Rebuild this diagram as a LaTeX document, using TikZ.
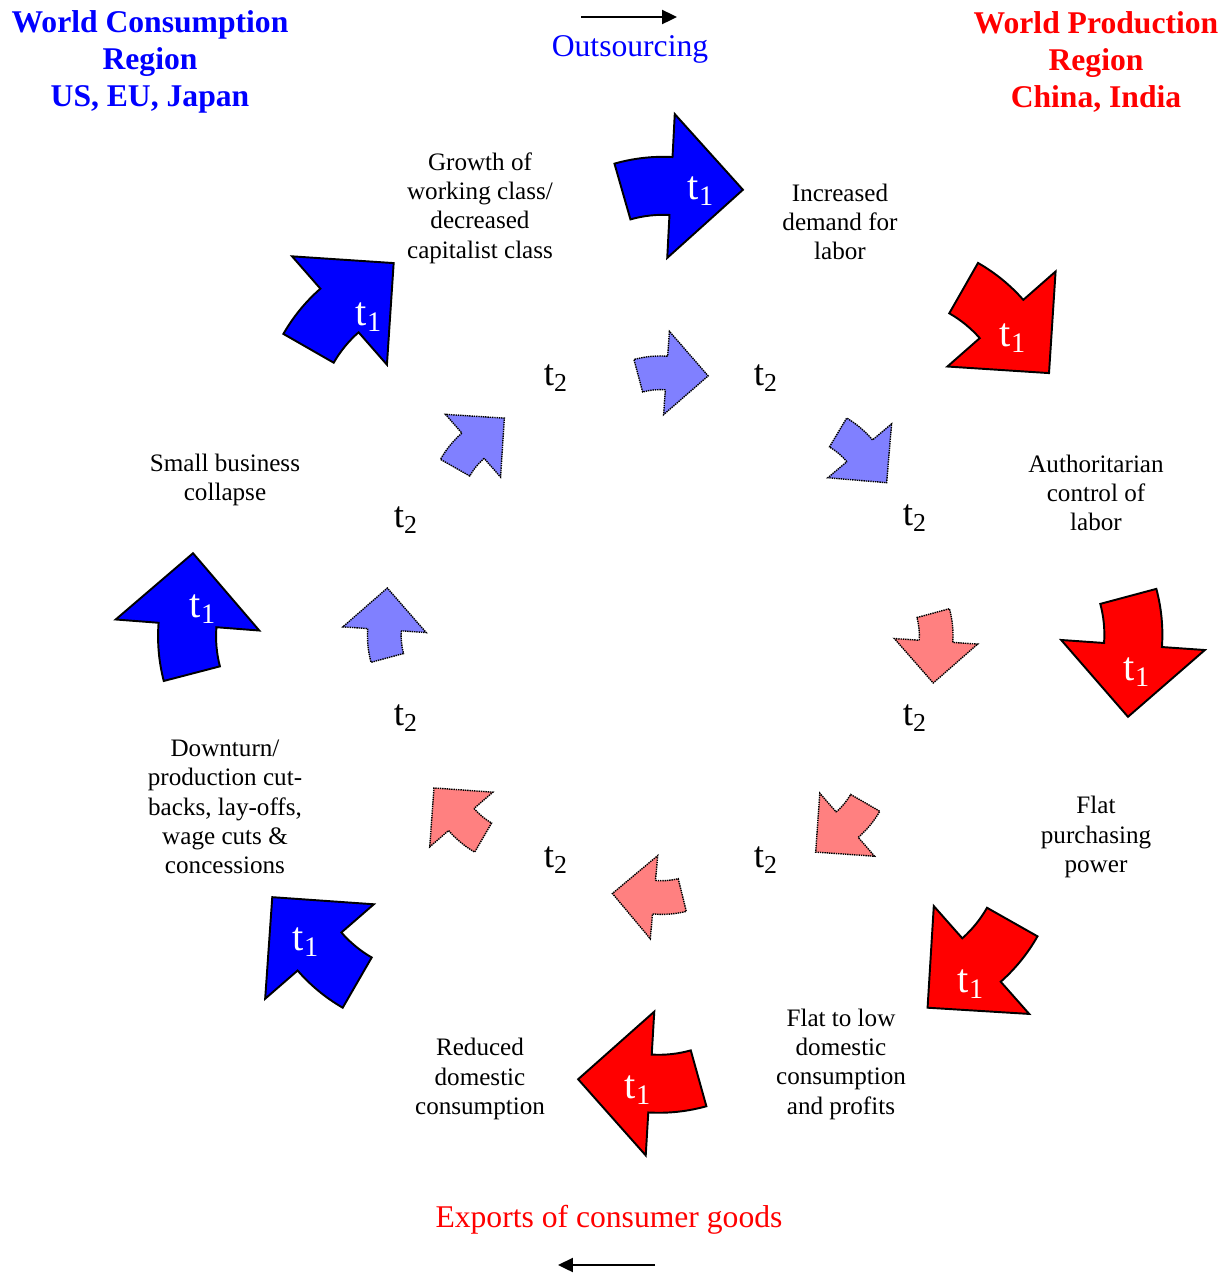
\documentclass[tikz,border=0pt]{standalone}
\usepackage{fontspec}
\setmainfont{Liberation Serif}
\usepackage{xcolor}
\usetikzlibrary{arrows.meta}
\definecolor{paleblue}{RGB}{128,128,255}
\definecolor{palered}{RGB}{255,128,128}

\tikzset{
  bentarrow/.pic={
    \path[pic actions] (0,-29) arc[start angle=90, end angle=109, radius=119]
      -- ++(109:58) arc[start angle=109, end angle=90, radius=177]
      -- (0,72) -- (72,0) -- (0,-72) -- cycle;
  }
}

\begin{document}
\begin{tikzpicture}[x=0.02cm, y=0.02cm,
    txt/.style={align=center, font=\fontsize{14.3}{16.7}\selectfont},
    head/.style={align=center, font=\bfseries\fontsize{18}{21}\selectfont},
    big/.style={font=\fontsize{18}{21}\selectfont},
    tone/.style={text=white, font=\fontsize{23}{27}\selectfont},
    ttwo/.style={font=\fontsize{21}{25}\selectfont},
    bigblue/.style={fill=blue, draw=black, line width=1.1pt},
    bigred/.style={fill=red, draw=black, line width=1.1pt},
    smallblue/.style={fill=paleblue, draw=black, line width=0.8pt, dash pattern=on 0.8pt off 0.5pt, scale=0.58},
    smallred/.style={fill=palered, draw=black, line width=0.8pt, dash pattern=on 0.8pt off 0.5pt, scale=0.58}]
            \useasboundingbox (0,0) rectangle (1228,-1275);

            \node[head, text=blue] (consumption) at (150,-62) {World Consumption\\Region\\US, EU, Japan};
            \node[head, text=red] (production) at (1096,-62) {World Production\\Region\\China, India};
            \node[big, text=blue] (outsourcing) at (630,-49) {Outsourcing};
            \node[big, text=red] (exports) at (609,-1220) {Exports of consumer goods};
            \coordinate (outfrom) at (581,-17);
            \coordinate (outto) at (677,-17);
            \coordinate (expfrom) at (655,-1265);
            \coordinate (expto) at (558,-1265);
            \draw[-{Triangle[length=8.5pt,width=8pt]}, line width=1.1pt] (outfrom) -- (outto);
            \draw[-{Triangle[length=8.5pt,width=8pt]}, line width=1.1pt] (expfrom) -- (expto);

            \pic[bigblue, rotate=-3] at (671,-186) {bentarrow};
            \pic[bigred, rotate=-48.7] at (1001.5,-319) {bentarrow};
            \pic[bigred, rotate=-94] at (1133,-645) {bentarrow};
            \pic[bigred, rotate=-138.5] at (981.5,-960) {bentarrow};
            \pic[bigred, rotate=176.6] at (650,-1083.5) {bentarrow};
            \pic[bigblue, rotate=131] at (319.5,-951.5) {bentarrow};
            \pic[bigblue, rotate=85.6] at (187.5,-625) {bentarrow};
            \pic[bigblue, rotate=41.2] at (339.5,-310.5) {bentarrow};

            \pic[smallblue, rotate=-4] at (666.5,-373) {bentarrow};
            \pic[smallblue, rotate=-49.8] at (859.7,-450.8) {bentarrow};
            \pic[smallred, rotate=-93.8] at (936,-641.3) {bentarrow};
            \pic[smallred, rotate=-139] at (847.2,-824.7) {bentarrow};
            \pic[smallred, rotate=174.9] at (654,-897.2) {bentarrow};
            \pic[smallred, rotate=130.9] at (461.3,-819.5) {bentarrow};
            \pic[smallblue, rotate=86.1] at (384.5,-629.7) {bentarrow};
            \pic[smallblue, rotate=41.3] at (473,-445.7) {bentarrow};

            \node[tone] (t1n) at (701,-191) {t\textsubscript{1}};
            \node[tone] (t1ne) at (1013,-338) {t\textsubscript{1}};
            \node[tone] (t1e) at (1137,-672) {t\textsubscript{1}};
            \node[tone] (t1se) at (971,-984) {t\textsubscript{1}};
            \node[tone] (t1s) at (638,-1090) {t\textsubscript{1}};
            \node[tone] (t1sw) at (306,-942) {t\textsubscript{1}};
            \node[tone] (t1w) at (203,-609) {t\textsubscript{1}};
            \node[tone] (t1nw) at (369,-317) {t\textsubscript{1}};

            \node[ttwo] (t2a) at (556,-378) {t\textsubscript{2}};
            \node[ttwo] (t2b) at (766,-378) {t\textsubscript{2}};
            \node[ttwo] (t2c) at (915,-518) {t\textsubscript{2}};
            \node[ttwo] (t2d) at (915,-718) {t\textsubscript{2}};
            \node[ttwo] (t2e) at (766,-860) {t\textsubscript{2}};
            \node[ttwo] (t2f) at (556,-860) {t\textsubscript{2}};
            \node[ttwo] (t2g) at (406,-718) {t\textsubscript{2}};
            \node[ttwo] (t2h) at (406,-520) {t\textsubscript{2}};

            \node[txt] (growth) at (480,-208) {Growth of\\working class/\\decreased\\capitalist class};
            \node[txt] (demand) at (840,-222) {Increased\\demand for\\labor};
            \node[txt] (control) at (1096,-493) {Authoritarian\\control of\\labor};
            \node[txt] (purchasing) at (1096,-837) {Flat\\purchasing\\power};
            \node[txt] (flatlow) at (841,-1064) {Flat to low\\domestic\\consumption\\and profits};
            \node[txt] (reduced) at (480,-1079) {Reduced\\domestic\\consumption};
            \node[txt] (downturn) at (225,-807) {Downturn/\\production cut-\\backs, lay-offs,\\wage cuts \&\\concessions};
            \node[txt] (smallbiz) at (225,-480) {Small business\\collapse};
        \end{tikzpicture}
\end{document}
